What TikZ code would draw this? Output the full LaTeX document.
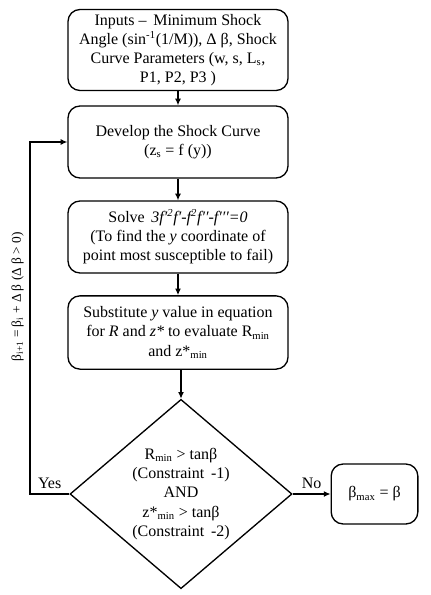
\documentclass[tikz,border=0pt]{standalone}
\usepackage{fontspec}
\setmainfont{Liberation Serif}
\usetikzlibrary{shapes.geometric,arrows.meta,positioning}
\tikzset{every node/.append style={align=center}}

\begin{document}
\begin{tikzpicture}[x=0.75pt, y=-0.75pt,
    procbox/.style={draw, line width=1pt, rounded corners=9pt, minimum width=165pt, font=\fontsize{12}{14.4}\selectfont},
    decision/.style={draw, line width=1pt, diamond, inner sep=0pt, minimum width=166.5pt, minimum height=142pt, font=\fontsize{12}{14.4}\selectfont},
    flow/.style={-{Latex[length=5pt,width=4.5pt]}, line width=0.9pt}]
        \useasboundingbox (0,0) rectangle (431,595);

        % Steps of the procedure
        \node[procbox, minimum height=59pt] (inp) at (178,50) {Inputs --\, Minimum Shock\\Angle (sin\textsuperscript{-1}(1/M)), Δ β, Shock\\Curve Parameters (w, s, L\textsubscript{s},\\P1, P2, P3 )};
        \node[procbox, minimum height=54pt] (dev) at (178,142) {Develop the Shock Curve\\(z\textsubscript{s} = f (y))};
        \node[procbox, minimum height=54pt] (sol) at (178,237) {Solve\, \textit{3f′\textsuperscript{2}f′-f\textsuperscript{2}f′′-f′′′=0}\\(To find the \textit{y} coordinate of\\point most susceptible to fail)};
        \node[procbox, minimum height=55pt] (sub) at (178,332.5) {Substitute \textit{y} value in equation\\for \textit{R} and \textit{z*} to evaluate R\textsubscript{min}\\and z*\textsubscript{min}};

        % Check of the constraints
        \node[decision] (chk) at (181,494) {R\textsubscript{min} > tanβ\\(Constraint\, -1)\\AND\\z*\textsubscript{min} > tanβ\\(Constraint\, -2)};
        \node[procbox, minimum width=65pt, minimum height=45pt] (res) at (374.5,494) {β\textsubscript{max} = β};

        % Main flow
        \draw[flow] (inp) -- (dev);
        \draw[flow] (dev) -- (sol);
        \draw[flow] (sol) -- (sub);
        \draw[flow] (sub.south -| chk.north) -- (chk.north);
        \draw[flow] (chk.east) -- node[above, font=\fontsize{12}{14.4}\selectfont] {No} (res.west);

        % Loop back with new angle
        \coordinate (loop) at (30,494);
        \draw[flow] (chk.west) -- node[above, font=\fontsize{12}{14.4}\selectfont] {Yes} (loop)
            -- node[pos=0.56, sloped, above=1pt, font=\fontsize{10}{12}\selectfont] {β\textsubscript{i+1} = β\textsubscript{i} + Δ β (Δ β > 0)} (loop |- dev.west) -- (dev.west);
    \end{tikzpicture}
\end{document}
